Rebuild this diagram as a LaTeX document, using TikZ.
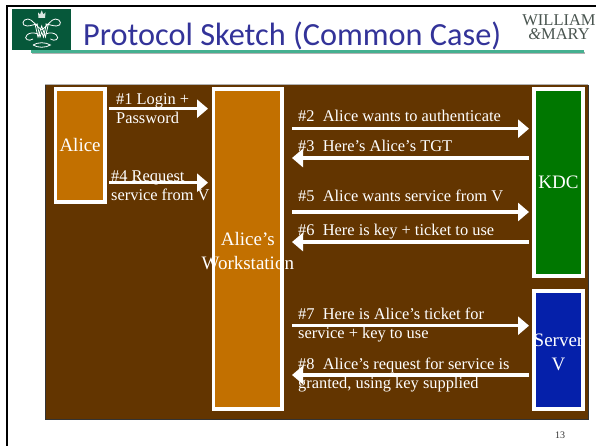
\documentclass[tikz,border=0pt]{standalone}
\usepackage{fontspec}
\setmainfont{Liberation Serif}
\newfontfamily\titlefont{Carlito}
\usetikzlibrary{arrows.meta}
\definecolor{panel}{HTML}{633500}
\definecolor{orangebox}{HTML}{C27000}
\definecolor{kdcgreen}{HTML}{007700}
\definecolor{serverblue}{HTML}{0520AA}
\definecolor{titleblue}{HTML}{333399}
\definecolor{crest}{HTML}{06583A}
\definecolor{rulegreen}{HTML}{45B090}
\definecolor{wmgrey}{HTML}{4A5550}
\newcommand{\fl}{\rule{0pt}{12pt}}
\newcommand{\flb}{\rule{0pt}{14pt}}
\tikzset{x=1pt,y=-1pt,
 actor/.style={draw=white,line width=3.6pt,inner sep=0pt,text=white,font=\fontsize{19}{24}\selectfont,align=center},
 msg/.style={draw=white,line width=3.2pt,-{Triangle[length=11pt,width=18pt]}},
 lab/.style={text=white,anchor=north west,inner sep=0pt,align=left,font=\fontsize{16.4}{19}\selectfont},
 boxlab/.style={anchor=north,inner sep=0pt,text=white,align=center,font=\fontsize{19}{24}\selectfont},
 pt/.style={inner sep=0pt,minimum size=0pt}}
\begin{document}
\begin{tikzpicture}
\useasboundingbox (0,0) rectangle (596,446);
\fill[white] (0,0) rectangle (596,446);
\draw[black,line width=2pt] (7,446) -- (7,6) -- (596,6);
% header
\fill[crest] (12,9) rectangle (71,50);
\begin{scope}[white,line width=.8pt]
\fill[white!85!crest] (38,12.5) -- (38.5,18) -- (45,18) -- (45.5,12.5) -- (43.5,14.5) -- (41.7,10.5) -- (40,14.5) -- cycle;
\draw (35,24) -- (38,37) -- (41.7,26) -- (45.4,37) -- (48.4,24);
\draw (37,24) -- (40,37) -- (41.7,32) -- (43.4,37) -- (46.4,24);
\draw (41.7,30) .. controls (36,26) and (32,19) .. (28,19) .. controls (22,19) and (21,26) .. (27,26) .. controls (31,26) and (35,24) .. (38,24);
\draw (41.7,30) .. controls (47.4,26) and (51.4,19) .. (55.4,19) .. controls (61.4,19) and (62.4,26) .. (56.4,26) .. controls (52.4,26) and (48.4,24) .. (45.4,24);
\draw (38,34) .. controls (33,32) and (29,33) .. (27,35) .. controls (23,39) and (29,42) .. (33,39);
\draw (45.4,34) .. controls (50.4,32) and (54.4,33) .. (56.4,35) .. controls (60.4,39) and (54.4,42) .. (50.4,39);
\draw (33,45) .. controls (38,42) and (45.4,42) .. (50.4,45) .. controls (45.4,48) and (38,48) .. (33,45);
\end{scope}
\fill[black!30] (32,52) rectangle (585,54);
\fill[rulegreen] (31,50) rectangle (584,52.7);
\node[pt,anchor=base west,text=titleblue,font=\titlefont\fontsize{32.3}{36}\selectfont] (title) at (83,46) {Protocol Sketch (Common Case)};
\node[pt,anchor=north,align=center,text=wmgrey,font=\fontsize{16.5}{14}\selectfont] (wm) at (559,14) {WILLIAM\\\textit{\&}MARY};
% panel
\fill[panel] (45,84.5) rectangle (588,419);
\draw[black!80,line width=.7pt] (45,85) -- (45,419) -- (588,419) -- (588,85);
\draw[black!30,line width=.7pt] (45,84.5) -- (588,84.5);
% boxes
\node[actor,fill=orangebox,minimum width=49.5pt,minimum height=113.5pt] (alice) at (80.1,145.5) {\raisebox{-2pt}{Alice}};
\node[actor,fill=orangebox,minimum width=68.5pt,minimum height=320.5pt] (ws) at (247.8,249) {};
\node[boxlab] (wstext) at (247.8,231) {\flb Alice’s\\Workstation};
\node[actor,fill=kdcgreen,minimum width=49.5pt,minimum height=187.5pt] (kdc) at (558.5,182.5) {\raisebox{-2pt}{KDC}};
\node[actor,fill=serverblue,minimum width=49.5pt,minimum height=118.5pt] (srv) at (558.5,350) {};
\node[boxlab] (srvtext) at (558.5,332) {\flb Server\\V};
% arrow ends
\coordinate (a1s) at (109,108.7); \coordinate (a1e) at (208,108.7);
\coordinate (a4s) at (109,182.7); \coordinate (a4e) at (208,182.7);
\coordinate (a2s) at (292,128.7); \coordinate (a2e) at (529,128.7);
\coordinate (a3s) at (529,158); \coordinate (a3e) at (292,158);
\coordinate (a5s) at (292,212); \coordinate (a5e) at (529,212);
\coordinate (a6s) at (529,242); \coordinate (a6e) at (292,242);
\coordinate (a7s) at (292,325.7); \coordinate (a7e) at (529,325.7);
\coordinate (a8s) at (529,375); \coordinate (a8e) at (292,375);
% labels
\node[lab] (l1) at (116,92) {\fl\#1 Login +\\Password};
\node[lab] (l4) at (111,169.7) {\fl\#4 Request\\service from V};
\node[lab] (l2) at (298,109.7) {\fl\#2\hspace{.5em}Alice wants to authenticate};
\node[lab] (l3) at (298,139.7) {\fl\#3\hspace{.5em}Here’s Alice’s TGT};
\node[lab] (l5) at (298,189.7) {\fl\#5\hspace{.5em}Alice wants service from V};
\node[lab] (l6) at (298,223.7) {\fl\#6\hspace{.5em}Here is key + ticket to use};
\node[lab] (l7) at (298,307) {\fl\#7\hspace{.5em}Here is Alice’s ticket for\\service + key to use};
\node[lab] (l8) at (298,357) {\fl\#8\hspace{.5em}Alice’s request for service is\\granted, using key supplied};
\foreach \n in {1,...,8} \draw[msg] (a\n s) -- (a\n e);
\node[pt,anchor=base,font=\fontsize{10}{11}\selectfont,text=black!80] (pg) at (560,438) {13};
\end{tikzpicture}
\end{document}
